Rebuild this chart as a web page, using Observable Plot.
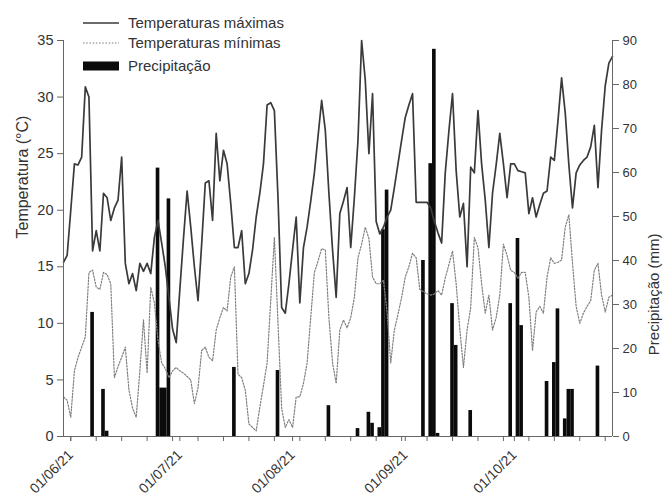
<!DOCTYPE html>
<html><head><meta charset="utf-8">
<script src="https://cdn.jsdelivr.net/npm/d3@7"></script>
<script src="https://cdn.jsdelivr.net/npm/@observablehq/plot@0.6"></script>
<style>
html,body{margin:0;padding:0;background:#fff;}
#chart svg{display:block;}
</style>
</head><body>
<div id="chart"></div>
<script>
// ---- data (daily series start 2021-05-30) ----
const seriesStart = "2021-05-30";
const tempMax = [
  15.4, 16.0, 20.0, 24.1, 24.0, 24.7, 30.9, 30.0, 16.4, 18.2,
  16.4, 21.5, 21.1, 19.1, 20.2, 20.9, 24.7, 15.3, 13.5, 14.4,
  12.9, 15.3, 14.6, 15.3, 14.4, 17.6, 19.1, 17.1, 15.0, 12.3,
  9.5, 8.3, 13.0, 17.5, 21.7, 18.5, 15.0, 12.0, 17.0, 22.4,
  22.6, 19.1, 26.8, 22.6, 25.3, 24.1, 20.6, 16.7, 16.7, 18.2,
  13.5, 14.4, 16.5, 19.4, 21.5, 24.1, 29.3, 29.5, 28.8, 21.1,
  11.4, 10.9, 13.5, 16.5, 19.4, 11.8, 16.7, 18.5, 20.8, 23.3,
  26.5, 29.7, 27.1, 21.5, 16.5, 12.3, 19.7, 20.8, 22.0, 16.7,
  21.1, 26.2, 35.0, 31.5, 25.0, 30.3, 19.0, 17.9, 18.5, 19.4,
  20.0, 22.0, 24.1, 26.2, 28.2, 29.3, 30.3, 20.7, 20.7, 20.7,
  20.7, 20.2, 19.0, 18.0, 17.1, 23.3, 27.0, 30.3, 23.5, 19.4,
  20.6, 15.0, 23.8, 23.3, 28.8, 24.1, 20.9, 16.7, 21.5, 24.0,
  26.8, 24.1, 21.1, 24.1, 24.1, 23.5, 23.4, 23.3, 19.7, 21.1,
  19.4, 20.5, 21.5, 21.7, 24.7, 24.4, 27.9, 31.7, 28.6, 24.0,
  20.2, 23.3, 24.0, 24.4, 24.7, 25.6, 27.5, 22.0, 27.1, 31.0,
  33.0, 33.6
];
const tempMin = [
  3.5, 3.2, 1.7, 5.8, 7.0, 7.9, 8.8, 14.5, 14.7, 13.2,
  13.0, 14.5, 14.3, 13.5, 5.2, 6.2, 7.0, 7.9, 4.1, 2.5,
  1.7, 5.8, 10.3, 5.6, 13.2, 11.8, 8.5, 6.5, 6.0, 5.2,
  5.8, 6.1, 5.8, 5.6, 5.3, 5.0, 2.9, 4.3, 7.6, 7.9,
  7.0, 6.7, 9.4, 10.5, 11.4, 11.1, 14.1, 15.0, 5.5, 5.2,
  4.1, 1.1, 0.8, 0.5, 2.6, 4.5, 6.5, 12.0, 17.6, 10.0,
  2.5, 0.8, 1.5, 0.8, 3.5, 3.5, 4.7, 6.5, 10.5, 14.5,
  15.5, 16.6, 16.5, 10.5, 6.5, 4.7, 9.4, 10.3, 9.6, 10.5,
  12.3, 15.8, 17.0, 18.5, 17.5, 14.1, 13.5, 13.5, 13.8, 11.0,
  6.5, 9.4, 10.8, 12.3, 14.1, 15.0, 16.2, 15.8, 13.0, 12.8,
  12.6, 12.5, 12.6, 12.9, 12.5, 14.0, 15.2, 16.4, 13.5, 9.5,
  6.1, 9.4, 11.4, 17.6, 16.7, 13.5, 10.9, 12.5, 9.4, 10.5,
  12.5, 17.0, 16.0, 14.7, 14.5, 14.0, 14.5, 14.5, 12.3, 7.6,
  11.0, 11.5, 10.9, 14.1, 15.8, 15.3, 15.4, 15.6, 18.5, 19.6,
  15.3, 11.5, 10.0, 10.9, 11.5, 12.0, 14.7, 15.3, 12.5, 11.0,
  12.3, 12.5
];
const precipDates = [
  "2021-06-07","2021-06-10","2021-06-11","2021-06-25","2021-06-26","2021-06-27","2021-06-28",
  "2021-07-16","2021-07-28","2021-08-11","2021-08-19","2021-08-22","2021-08-23","2021-08-25",
  "2021-08-26","2021-08-27","2021-09-06","2021-09-08","2021-09-09","2021-09-10","2021-09-14",
  "2021-09-15","2021-09-19","2021-09-30","2021-10-02","2021-10-03","2021-10-10","2021-10-12",
  "2021-10-13","2021-10-15","2021-10-16","2021-10-17","2021-10-24"
];
const precipValues = [
  28.2, 10.7, 1.2, 61.0, 11.0, 11.0, 54.0,
  15.7, 15.0, 7.0, 1.8, 5.5, 3.0, 2.0,
  47.0, 56.0, 40.0, 62.0, 88.0, 0.7, 30.2,
  20.7, 5.9, 30.2, 45.0, 25.2, 12.5, 16.8,
  29.0, 4.0, 10.7, 10.7, 16.0
];
const monthTicks = ["2021-06-01","2021-07-01","2021-08-01","2021-09-01","2021-10-01"];
const tempTicks = [0, 5, 10, 15, 20, 25, 30, 35];
const precipTicks = [0, 10, 20, 30, 40, 50, 60, 70, 80, 90];
const xStart = "2021-05-30", xEnd = "2021-10-28";
const legendLabels = ["Temperaturas máximas", "Temperaturas mínimas", "Precipitação"];
const yTitle = "Temperatura (°C)";
const y2Title = "Precipitação (mm)";

// ---- build ----
const FONT = "'Liberation Sans', Arial, Helvetica, sans-serif";
const parse = d3.utcParse("%Y-%m-%d");
const t0 = parse(seriesStart);
const maxData = tempMax.map((t, i) => ({date: d3.utcDay.offset(t0, i), t}));
const minData = tempMin.map((t, i) => ({date: d3.utcDay.offset(t0, i), t}));
const precip = precipDates.map((s, i) => ({date: parse(s), p: precipValues[i]}));
const TMAX = 35, PMAX = 90;
const toTemp = p => p * TMAX / PMAX;
const weekly = d3.utcTuesday.range(parse("2021-06-01"), parse(xEnd));
const axisColor = "#666";
const textColor = "#333";

const chart = Plot.plot({
  width: 664, height: 503,
  marginTop: 40, marginBottom: 67, marginLeft: 63, marginRight: 52,
  style: {background: "#fff", fontFamily: FONT, color: textColor, overflow: "visible"},
  x: {type: "utc", domain: [parse(xStart), parse(xEnd)]},
  y: {domain: [0, TMAX]},
  marks: [
    Plot.rect(precip, {
      x1: d => d3.utcHour.offset(d.date, -12),
      x2: d => d3.utcHour.offset(d.date, 12),
      y1: 0, y2: d => toTemp(d.p), fill: "#0b0b0b"
    }),
    Plot.lineY(minData, {x: "date", y: "t", stroke: "#808080", strokeWidth: 1.2, strokeDasharray: "1.6,1.6"}),
    Plot.lineY(maxData, {x: "date", y: "t", stroke: "#3a3a3a", strokeWidth: 1.7, strokeLinejoin: "round"}),
    Plot.ruleX([parse(xStart), parse(xEnd)], {stroke: axisColor}),
    Plot.ruleY([0], {stroke: axisColor}),
    Plot.axisY({ticks: tempTicks, anchor: "left", tickSize: 6, tickPadding: 4, fontSize: 14.5,
      label: null, stroke: axisColor, fill: textColor}),
    Plot.axisY({ticks: precipTicks.map(toTemp), tickFormat: v => String(Math.round(v * PMAX / TMAX)),
      anchor: "right", tickSize: 6, tickPadding: 4, fontSize: 13, label: null, stroke: axisColor, fill: textColor}),
    Plot.axisX({ticks: weekly, anchor: "bottom", tickSize: 5, fill: "none", label: null, stroke: axisColor}),
    Plot.axisX({ticks: monthTicks.map(parse), tickFormat: d3.utcFormat("%d/%m/%y"), anchor: "bottom",
      tickSize: 5, tickPadding: 11, tickRotate: -45, fontSize: 14, label: null, stroke: axisColor, fill: textColor}),
    Plot.text([yTitle], {frameAnchor: "left", rotate: -90, dx: -41, fontSize: 16, fill: textColor}),
    Plot.text([y2Title], {frameAnchor: "right", rotate: -90, dx: 42, dy: -5, fontSize: 15, fill: textColor})
  ]
});
document.getElementById("chart").appendChild(chart);

// ---- legend ----
const svg = d3.select(chart);
const lg = svg.append("g").attr("font-family", FONT).attr("font-size", 15)
  .attr("fill", textColor).attr("text-anchor", "start");
const rowsY = [23, 43, 66];
lg.append("line").attr("x1", 83).attr("x2", 119).attr("y1", rowsY[0]).attr("y2", rowsY[0])
  .attr("stroke", "#3a3a3a").attr("stroke-width", 1.7);
lg.append("line").attr("x1", 83).attr("x2", 119).attr("y1", rowsY[1]).attr("y2", rowsY[1])
  .attr("stroke", "#808080").attr("stroke-width", 1.2).attr("stroke-dasharray", "1.6,1.6");
lg.append("rect").attr("x", 83).attr("y", rowsY[2] - 4.5).attr("width", 36).attr("height", 9).attr("fill", "#0b0b0b");
legendLabels.forEach((s, i) => {
  lg.append("text").attr("x", 128).attr("y", rowsY[i]).attr("dy", "0.35em").text(s);
});
</script>
</body></html>
